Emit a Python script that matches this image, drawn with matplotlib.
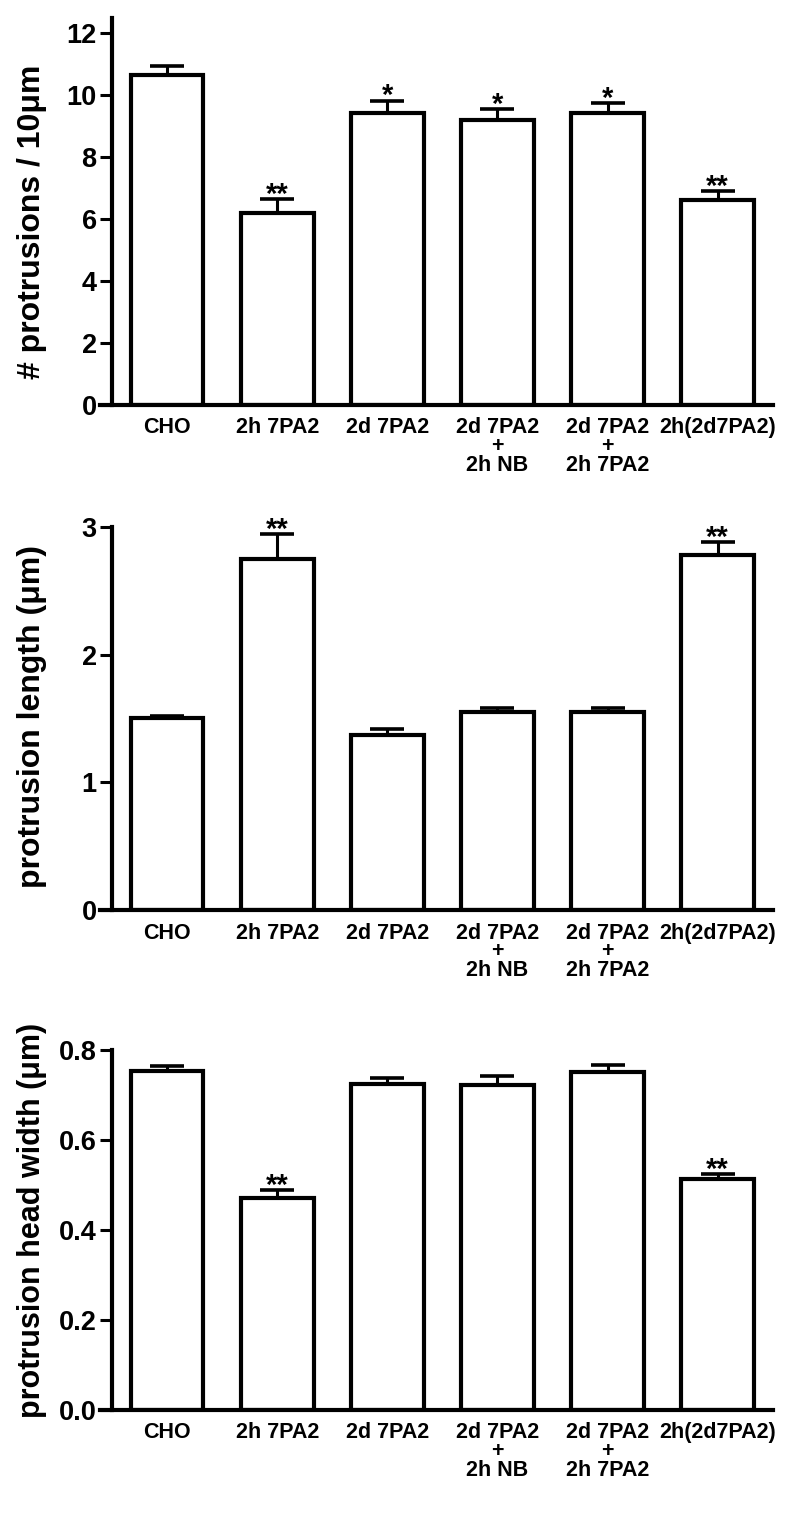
import numpy as np
import matplotlib
matplotlib.use("Agg")
import matplotlib.pyplot as plt

plt.rcParams['font.family'] = ['Liberation Sans', 'DejaVu Sans']
plt.rcParams['font.weight'] = 'bold'

categories = ["CHO", "2h 7PA2", "2d 7PA2", "2d 7PA2\n+\n2h NB", "2d 7PA2\n+\n2h 7PA2", "2h(2d7PA2)"]

protrusions_mean = [10.65, 6.20, 9.42, 9.20, 9.44, 6.63]
protrusions_sem = [0.30, 0.45, 0.40, 0.35, 0.30, 0.27]
protrusions_sig = ["", "**", "*", "*", "*", "**"]

length_mean = [1.50, 2.75, 1.37, 1.55, 1.55, 2.78]
length_sem = [0.02, 0.19, 0.05, 0.03, 0.03, 0.10]
length_sig = ["", "**", "", "", "", "**"]

width_mean = [0.754, 0.470, 0.724, 0.722, 0.750, 0.514]
width_sem = [0.010, 0.018, 0.013, 0.019, 0.017, 0.010]
width_sig = ["", "**", "", "", "", "**"]

panels = [
    dict(mean=protrusions_mean, sem=protrusions_sem, sig=protrusions_sig,
         ylabel="# protrusions / 10\u03bcm", ylim=(0, 12.5), yticks=[0, 2, 4, 6, 8, 10, 12],
         fmt="{:.0f}", rect=[0.14, 0.7334, 0.826, 0.2548], lab_y=0.473, lab_fs=23),
    dict(mean=length_mean, sem=length_sem, sig=length_sig,
         ylabel="protrusion length (\u03bcm)", ylim=(0, 3), yticks=[0, 1, 2, 3],
         fmt="{:.0f}", rect=[0.14, 0.4009, 0.826, 0.2523], lab_y=0.506, lab_fs=23),
    dict(mean=width_mean, sem=width_sem, sig=width_sig,
         ylabel="protrusion head width (\u03bcm)", ylim=(0, 0.8), yticks=[0.0, 0.2, 0.4, 0.6, 0.8],
         fmt="{:.1f}", rect=[0.14, 0.0718, 0.826, 0.2370], lab_y=0.525, lab_fs=22),
]

fig = plt.figure(figsize=(8, 15.19), dpi=100)
lw = 3.0
x = np.arange(len(categories))

for p in panels:
    ax = fig.add_axes(p["rect"])
    mean = np.array(p["mean"])
    sem = np.array(p["sem"])
    ax.bar(x, mean, width=0.66, color="white", edgecolor="black", linewidth=lw, zorder=2)
    ax.errorbar(x, mean, yerr=[np.zeros_like(sem), sem], fmt="none", ecolor="black",
                elinewidth=2.2, capsize=12.5, capthick=2.6, zorder=1)
    for xi, m, s, t in zip(x, mean, sem, p["sig"]):
        if t:
            ax.annotate(t, (xi, m + s), xytext=(0, -2.5), textcoords="offset points",
                        ha="center", va="baseline", fontsize=21, fontweight="bold")
    ax.set_xlim(-0.5, 5.5)
    ax.set_ylim(*p["ylim"])
    ax.set_yticks(p["yticks"])
    ax.set_yticklabels([p["fmt"].format(v) for v in p["yticks"]], fontsize=19.5, fontweight="bold")
    ax.set_xticks(x)
    ax.set_xticklabels(categories, fontsize=15.5, fontweight="bold", linespacing=0.85)
    ax.tick_params(axis="x", length=0, pad=9)
    ax.tick_params(axis="y", length=8.5, width=2.2, pad=2.5)
    for s in ["top", "right"]:
        ax.spines[s].set_visible(False)
    for s in ["left", "bottom"]:
        ax.spines[s].set_linewidth(lw)
    ax.spines["bottom"].set_bounds(-0.61, 5.5)
    ax.set_ylabel(p["ylabel"], fontsize=p["lab_fs"], fontweight="bold")
    ax.yaxis.set_label_coords(-0.098, p["lab_y"])

fig.savefig("out.png", dpi=100, facecolor="white")
